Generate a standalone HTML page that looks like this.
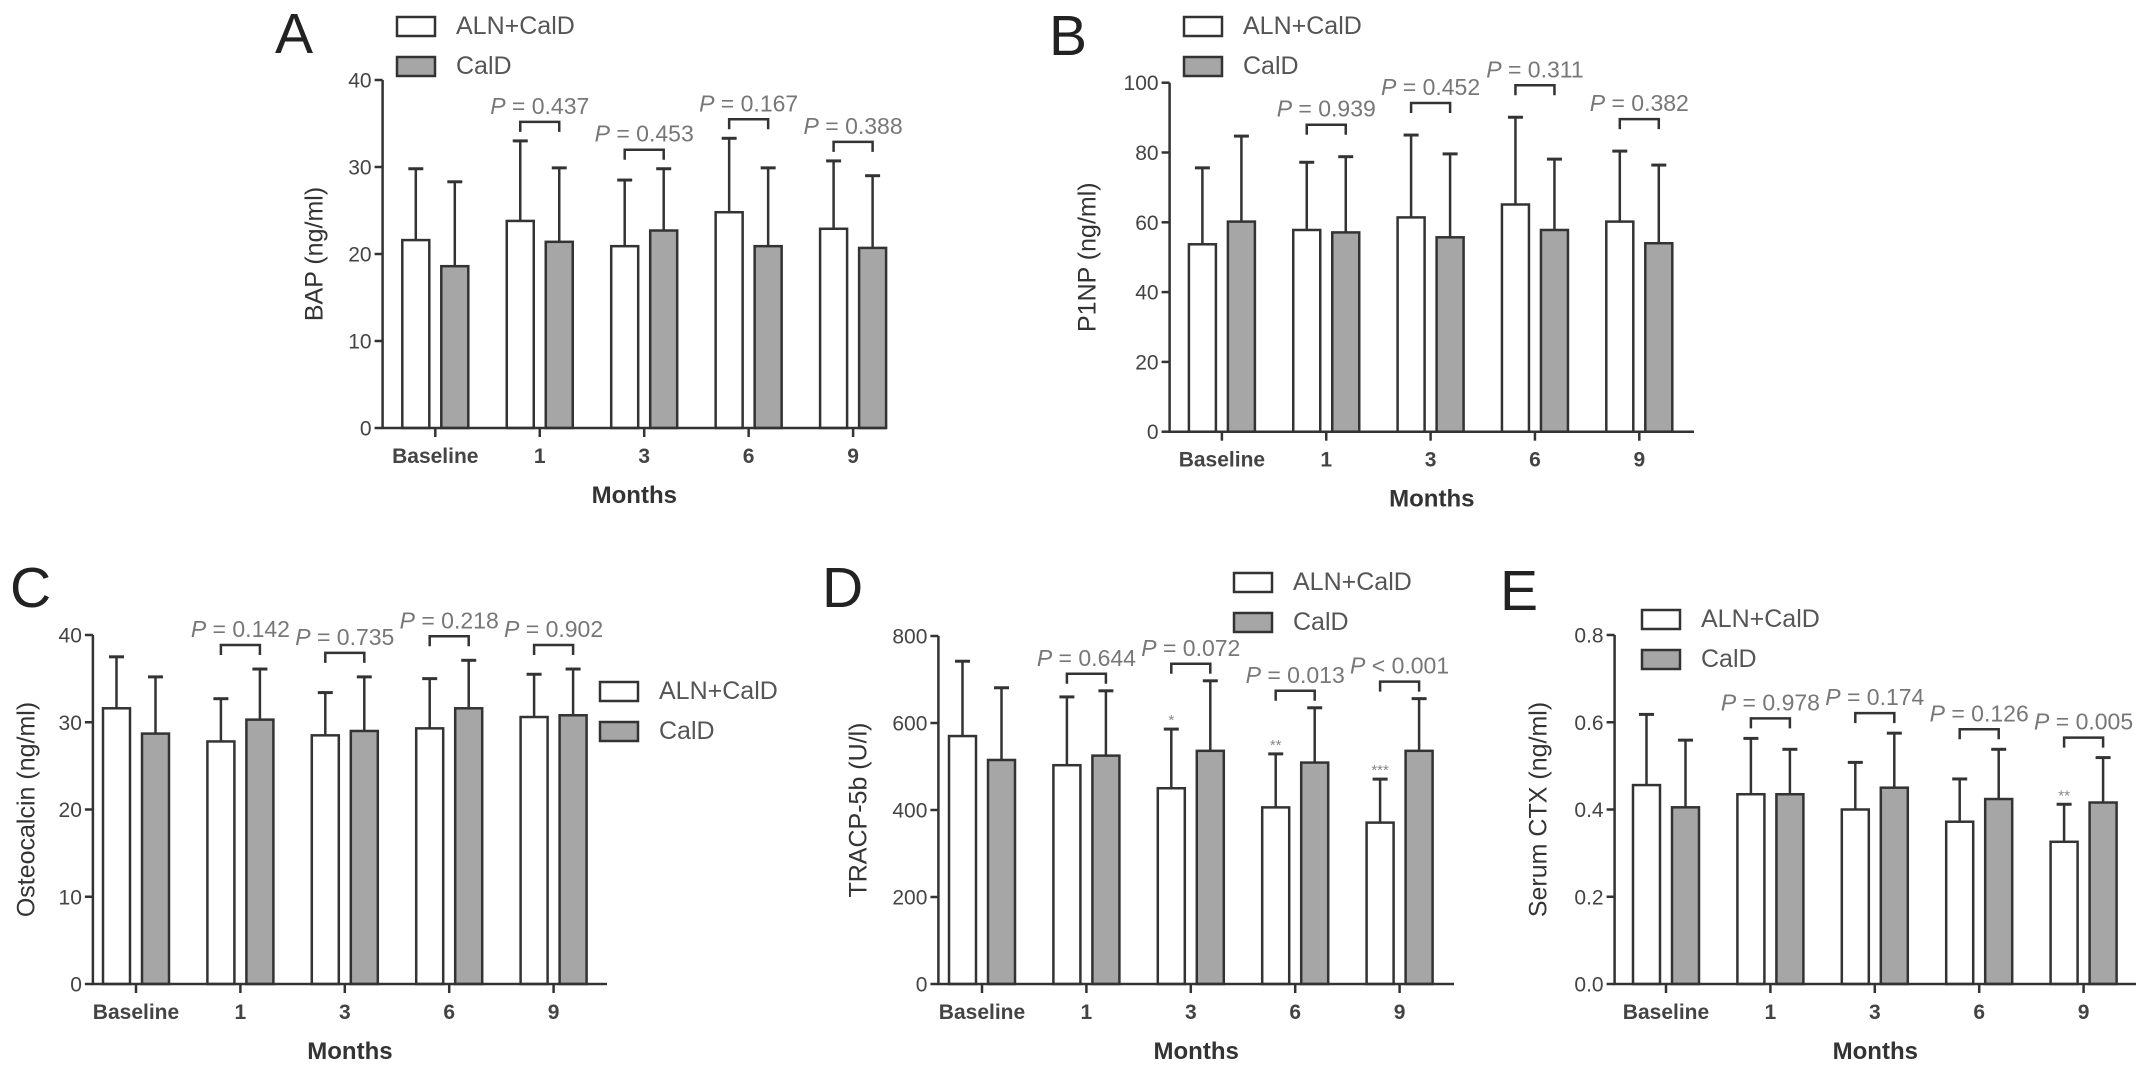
<!DOCTYPE html>
<html><head><meta charset="utf-8"><style>
html,body{margin:0;padding:0;background:#fff;}
svg{display:block;font-family:"Liberation Sans",Arial,sans-serif;}
</style></head><body>
<svg id="fig" width="2150" height="1072" viewBox="0 0 2150 1072"></svg>
<script>
const categories = ['Baseline','1','3','6','9'];
const seriesNames = ['ALN+CalD','CalD'];
// Panel A - BAP
const bapAln = [21.6,23.8,20.9,24.8,22.9];
const bapAlnSd = [8.2,9.2,7.6,8.5,7.8];
const bapCald = [18.6,21.4,22.7,20.9,20.7];
const bapCaldSd = [9.7,8.5,7.1,9.0,8.3];
const bapP = ['','P = 0.437','P = 0.453','P = 0.167','P = 0.388'];
const bapTicks = [0,10,20,30,40];
// Panel B - P1NP
const p1npAln = [53.7,57.8,61.4,65.1,60.2];
const p1npAlnSd = [21.9,19.4,23.6,25.0,20.2];
const p1npCald = [60.2,57.1,55.7,57.8,54.0];
const p1npCaldSd = [24.5,21.7,23.9,20.3,22.4];
const p1npP = ['','P = 0.939','P = 0.452','P = 0.311','P = 0.382'];
const p1npTicks = [0,20,40,60,80,100];
// Panel C - Osteocalcin
const ocAln = [31.6,27.8,28.5,29.3,30.6];
const ocAlnSd = [5.9,4.9,4.9,5.7,4.9];
const ocCald = [28.7,30.3,29.0,31.6,30.8];
const ocCaldSd = [6.5,5.8,6.2,5.5,5.3];
const ocP = ['','P = 0.142','P = 0.735','P = 0.218','P = 0.902'];
const ocTicks = [0,10,20,30,40];
// Panel D - TRACP-5b
const trAln = [570,503,450,406,371];
const trAlnSd = [172,157,136,123,100];
const trCald = [515,525,536,509,536];
const trCaldSd = [166,149,161,126,120];
const trP = ['','P = 0.644','P = 0.072','P = 0.013','P < 0.001'];
const trStars = ['','','*','**','***'];
const trTicks = [0,200,400,600,800];
// Panel E - Serum CTX
const ctxAln = [0.456,0.435,0.400,0.372,0.326];
const ctxAlnSd = [0.162,0.128,0.108,0.098,0.086];
const ctxCald = [0.405,0.435,0.450,0.424,0.416];
const ctxCaldSd = [0.154,0.103,0.125,0.114,0.103];
const ctxP = ['','P = 0.978','P = 0.174','P = 0.126','P = 0.005'];
const ctxStars = ['','','','','**'];
const ctxTicks = ['0.0','0.2','0.4','0.6','0.8'];

const NS='http://www.w3.org/2000/svg';
const svg=document.getElementById('fig');
function el(tag,attrs,parent,text){const e=document.createElementNS(NS,tag);for(const k in attrs)e.setAttribute(k,attrs[k]);if(text!==undefined)e.textContent=text;(parent||svg).appendChild(e);return e;}
const INK='#333';

function panel(cfg){
  const g=el('g',{});
  
  
  const ticks=cfg.ticks.map(Number);
  const ymax=ticks[ticks.length-1];
  const Y=v=>cfg.yb-(v/ymax)*(cfg.yb-cfg.yt);
  const X=i=>cfg.x0+cfg.off+i*cfg.sp;
  // panel letter
  const L=el('text',{x:cfg.lx,y:cfg.ly,'font-size':57,fill:'#222'},g,cfg.id);
  
  
  // bars
  const series=[[cfg.aln,cfg.alnSd,'#ffffff',-33],[cfg.cald,cfg.caldSd,'#a6a6a6',6]];
  series.forEach((s,si)=>{
    s[0].forEach((v,i)=>{
      const c=X(i), bx=c+s[3], top=Y(v), et=Y(v+s[1][i]);
      const eb=el('line',{x1:bx+13.5,x2:bx+13.5,y1:top,y2:et,stroke:INK,'stroke-width':2.5},g);
      
      
      const cap=el('line',{x1:bx+6,x2:bx+21,y1:et,y2:et,stroke:INK,'stroke-width':3},g);
      
      
      const r=el('rect',{x:bx,y:top,width:27,height:cfg.yb-top,fill:s[2],stroke:INK,'stroke-width':2.5},g);
      
      
      if(si===0 && cfg.stars && cfg.stars[i]){
        const st=el('text',{x:bx+13.5,y:et-4,'font-size':15,fill:'#888','text-anchor':'middle'},g,cfg.stars[i]);
        
        
      }
    });
  });
  // p-value brackets
  cfg.p.forEach((p,i)=>{
    if(!p)return;
    const c=X(i);
    const m=Math.min(Y(cfg.aln[i]+cfg.alnSd[i]),Y(cfg.cald[i]+cfg.caldSd[i]));
    const bt=m-cfg.gap;
    const br=el('path',{d:`M${c-19.5},${bt+10}V${bt}H${c+19.5}V${bt+10}`,fill:'none',stroke:INK,'stroke-width':2.5},g);
    
    
    const t=el('text',{x:c,y:bt-8,'font-size':23,fill:'#777','text-anchor':'middle'},g);
    
    
    const ip=el('tspan',{'font-style':'italic'},t,'P');
    el('tspan',{},t,p.slice(1));
  });
  // axes
  const ax=el('path',{d:`M${cfg.x0},${cfg.yt}V${cfg.yb}H${cfg.x1}`,fill:'none',stroke:INK,'stroke-width':2.5},g);
  
  
  cfg.ticks.forEach(t=>{
    const y=Y(Number(t));
    el('line',{x1:cfg.x0-8,x2:cfg.x0,y1:y,y2:y,stroke:INK,'stroke-width':2.5},g);
    const tl=el('text',{x:cfg.x0-11,y:y+7.5,'font-size':21,fill:'#444','text-anchor':'end'},g,String(t));
    
    
  });
  categories.forEach((c,i)=>{
    el('line',{x1:X(i),x2:X(i),y1:cfg.yb,y2:cfg.yb+9,stroke:INK,'stroke-width':2.5},g);
    const xl=el('text',{x:X(i),y:cfg.yb+35,'font-size':21,'font-weight':'bold',fill:'#444','text-anchor':'middle'},g,c);
    
    
  });
  const xt=el('text',{x:(cfg.x0+cfg.x1)/2,y:cfg.yb+75,'font-size':24,'font-weight':'bold',fill:'#333','text-anchor':'middle'},g,'Months');
  
  
  const yc=(cfg.yt+cfg.yb)/2;
  const yt=el('text',{x:cfg.tx,y:yc,'font-size':25,fill:'#333','text-anchor':'middle',transform:`rotate(-90 ${cfg.tx} ${yc})`,'dominant-baseline':'middle'},g,cfg.title);
  
  
  // legend
  seriesNames.forEach((n,si)=>{
    const ly=cfg.gy+si*40;
    const lr=el('rect',{x:cfg.gx,y:ly,width:38,height:19,fill:si?'#a6a6a6':'#fff',stroke:INK,'stroke-width':2.5},g);
    
    
    const lt=el('text',{x:cfg.gx+59,y:ly+17,'font-size':25,fill:'#555'},g,n);
    
    
  });
}

panel({id:'A',x0:382.6,x1:886,off:52.7,sp:104.45,yt:80,yb:428,ticks:bapTicks,aln:bapAln,alnSd:bapAlnSd,cald:bapCald,caldSd:bapCaldSd,p:bapP,gap:19,lx:275,ly:53,tx:316,title:'BAP (ng/ml)',gx:397,gy:17});
panel({id:'B',x0:1169.6,x1:1694,off:52.3,sp:104.35,yt:82.7,yb:431.7,ticks:p1npTicks,aln:p1npAln,alnSd:p1npAlnSd,cald:p1npCald,caldSd:p1npCaldSd,p:p1npP,gap:32,lx:1049,ly:55,tx:1089,title:'P1NP (ng/ml)',gx:1184,gy:17});
panel({id:'C',x0:92.9,x1:607,off:43.1,sp:104.4,yt:635,yb:984,ticks:ocTicks,aln:ocAln,alnSd:ocAlnSd,cald:ocCald,caldSd:ocCaldSd,p:ocP,gap:24,lx:10,ly:607,tx:28,title:'Osteocalcin (ng/ml)',gx:600,gy:682});
panel({id:'D',x0:938.4,x1:1454,off:43.6,sp:104.4,yt:636,yb:984,ticks:trTicks,aln:trAln,alnSd:trAlnSd,cald:trCald,caldSd:trCaldSd,p:trP,stars:trStars,gap:17,lx:822,ly:607,tx:860,title:'TRACP-5b (U/l)',gx:1234,gy:573});
panel({id:'E',x0:1614.6,x1:2136,off:51.4,sp:104.4,yt:635,yb:984,ticks:ctxTicks,aln:ctxAln,alnSd:ctxAlnSd,cald:ctxCald,caldSd:ctxCaldSd,p:ctxP,stars:ctxStars,gap:20,lx:1500,ly:610,tx:1540,title:'Serum CTX (ng/ml)',gx:1642,gy:610});
</script>
</body></html>
